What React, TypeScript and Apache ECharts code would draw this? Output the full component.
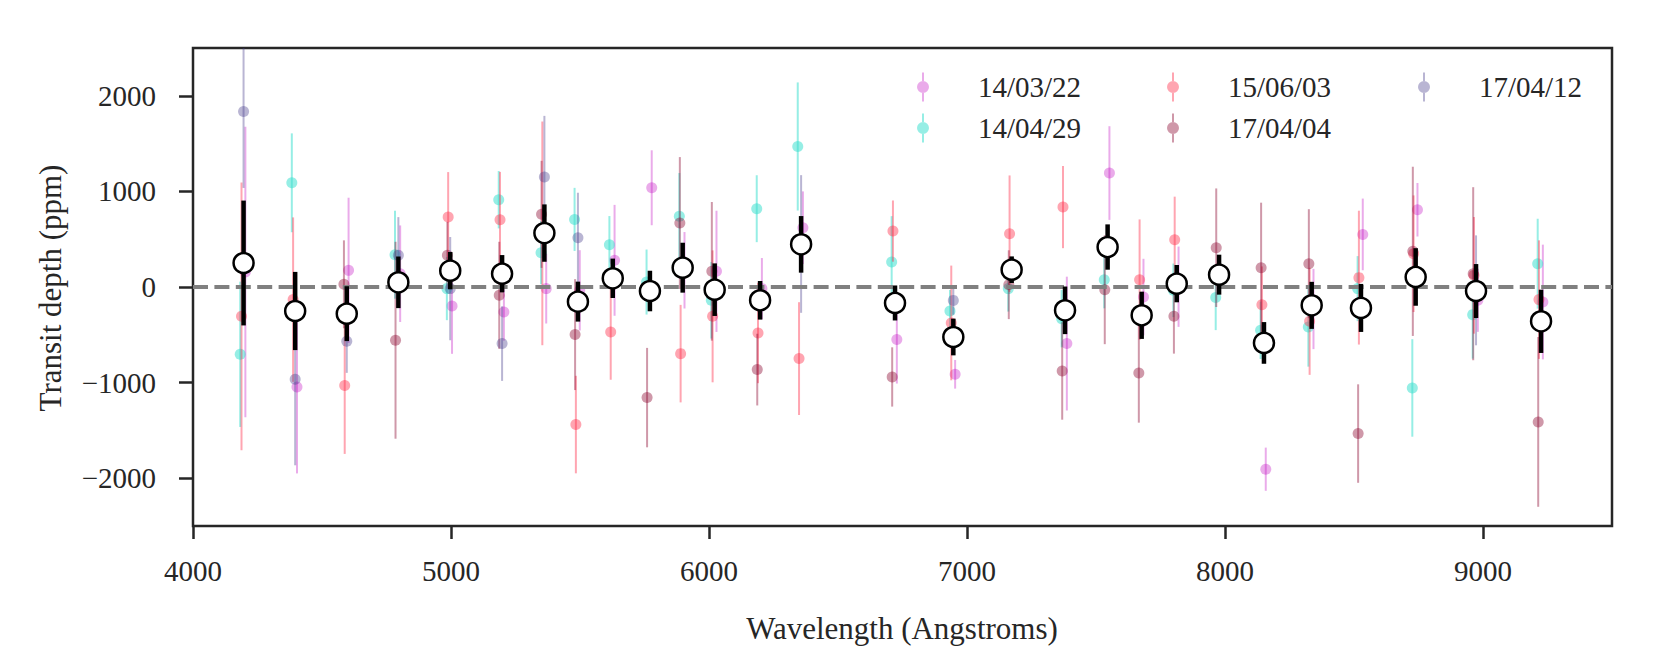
import React, { useEffect, useRef } from "react";
import * as echarts from "echarts";

// Wavelength bins (Angstroms)
const BINS = [4196, 4396, 4596, 4796, 4997, 5198, 5362, 5492, 5627, 5771, 5898, 6022, 6198, 6357, 6721, 6947, 7173, 7380, 7545, 7677, 7813, 7977, 8151, 8336, 8527, 8739, 8973, 9225];

// Combined transit depth (ppm)
const MEAN = [251, -251, -279, 49, 171, 139, 564, -153, 91, -42, 202, -28, -139, 446, -167, -523, 181, -244, 418, -296, 35, 129, -585, -192, -219, 105, -42, -359];
const MEAN_ERR = [653, 409, 287, 270, 195, 195, 300, 209, 206, 212, 261, 275, 202, 296, 183, 192, 139, 249, 237, 247, 195, 209, 218, 246, 251, 301, 282, 331];

// Individual nights
const N1_VAL = [157, -1045, 174, 139, -199, -261, -17, -35, 279, 1038, 175, 164, -17, 620, -550, -913, null, -592, 1192, -105, 3, null, -1906, -230, 550, 808, -139, -157];
const N1_ERR = [1520, 905, 760, 505, 500, 300, 365, 420, 580, 392, 400, 634, 320, 380, 460, 150, null, 700, 490, 400, 420, null, 226, 420, 375, 280, 330, 600];

const N2_VAL = [-704, 1090, null, 338, -17, 913, 359, 707, 442, 52, 739, -139, 819, 1470, 261, -251, -17, -331, 77, null, -35, -111, -453, -418, -17, -1056, -289, 244];
const N2_ERR = [760, 517, null, 460, 330, 300, 330, 330, 300, 340, 453, 400, 350, 670, 480, 220, 240, 300, 300, null, 280, 340, 300, 415, 340, 510, 460, 470];

const N3_VAL = [-307, -132, -1031, null, 732, 704, 561, -1439, -470, null, -697, -307, -481, -749, 585, -376, 557, 836, null, 77, 495, null, -185, -359, 98, 348, 122, -132];
const N3_ERR = [1400, 860, 715, null, 470, 500, 1170, 510, 500, null, 510, 690, 525, 590, 320, 600, 610, 430, null, 630, 450, null, 400, 560, 700, 610, 610, 620];

const N4_VAL = [null, null, 28, -557, 331, -87, 760, -498, null, -1157, 669, 164, -864, null, -941, null, 24, -878, -28, -899, -307, 411, 202, 244, -1533, 373, 139, -1411];
const N4_ERR = [null, null, 460, 1030, 350, 560, 560, 580, null, 520, 690, 725, 375, null, 310, null, 360, 510, 570, 520, 390, 620, 680, 570, 515, 885, 905, 888];

const N5_VAL = [1836, -965, -568, 331, -17, -592, 1150, 516, null, null, null, null, null, 450, null, -140, null, null, null, null, null, null, null, null, null, null, -35, null];
const N5_ERR = [800, 900, 330, 400, 540, 390, 640, 470, null, null, null, null, null, 720, null, 150, null, null, null, null, null, null, null, null, null, null, 575, null];

const NIGHT_NAMES = ["14/03/22", "14/04/29", "15/06/03", "17/04/04", "17/04/12"];
// small wavelength offset of each night's bin centres (Angstroms)
const NIGHT_SHIFT = [7, -13, -8, -11, 0];

const X_TICKS = [4000, 5000, 6000, 7000, 8000, 9000];
const Y_TICKS = [-2000, -1000, 0, 1000, 2000];

const COLORS = [
  "rgba(191,0,191,0.33)",
  "rgba(64,224,208,0.55)",
  "rgba(255,40,70,0.42)",
  "rgba(140,10,50,0.42)",
  "rgba(72,61,139,0.38)",
];

const FONT = "'Liberation Serif', 'DejaVu Serif', 'Times New Roman', serif";
const INK = "#262626";

const LEGEND_ICON =
  "path://M5,0 h2 v8.5 h-2 z M5,20.5 h2 v8.5 h-2 z M0,14.5 a6,6 0 1,0 12,0 a6,6 0 1,0 -12,0 z";

function nightSeries(idx: number, vals: (number | null)[], errs: (number | null)[]) {
  const color = COLORS[idx];
  const data: number[][] = [];
  BINS.forEach((w, i) => {
    const v = vals[i];
    const e = errs[i];
    if (v !== null && e !== null) data.push([w + NIGHT_SHIFT[idx], v, e]);
  });
  return {
    type: "custom",
    name: NIGHT_NAMES[idx],
    clip: true,
    z: 2,
    itemStyle: { color },
    encode: { x: 0, y: 1 },
    data,
    renderItem: (params: any, api: any) => {
      const x = api.value(0);
      const y = api.value(1);
      const e = api.value(2);
      const p = api.coord([x, y]);
      const hi = api.coord([x, y + e]);
      const lo = api.coord([x, y - e]);
      return {
        type: "group",
        children: [
          {
            type: "line",
            shape: { x1: p[0], y1: hi[1], x2: p[0], y2: lo[1] },
            style: { stroke: color, lineWidth: 2 },
          },
          {
            type: "circle",
            shape: { cx: p[0], cy: p[1], r: 5.5 },
            style: { fill: color },
          },
        ],
      };
    },
  };
}

function meanSeries() {
  const data = BINS.map((w, i) => [w, MEAN[i], MEAN_ERR[i]]);
  return {
    type: "custom",
    name: "mean",
    clip: true,
    z: 5,
    encode: { x: 0, y: 1 },
    data,
    renderItem: (params: any, api: any) => {
      const x = api.value(0);
      const y = api.value(1);
      const e = api.value(2);
      const p = api.coord([x, y]);
      const hi = api.coord([x, y + e]);
      const lo = api.coord([x, y - e]);
      return {
        type: "group",
        children: [
          {
            type: "line",
            shape: { x1: p[0], y1: hi[1], x2: p[0], y2: lo[1] },
            style: { stroke: "#000", lineWidth: 4.5 },
          },
          {
            type: "circle",
            shape: { cx: p[0], cy: p[1], r: 10 },
            style: { fill: "#fff", stroke: "#000", lineWidth: 2.5 },
          },
        ],
      };
    },
  };
}

const legendBase = {
  orient: "vertical",
  top: 72.5,
  padding: 0,
  itemWidth: 12,
  itemHeight: 29,
  itemGap: 12,
  icon: LEGEND_ICON,
  selectedMode: false,
  textStyle: { fontFamily: FONT, fontSize: 29, color: INK, padding: [0, 0, 0, 44] },
};

export default function App() {
  const ref = useRef<HTMLDivElement>(null);

  useEffect(() => {
    if (!ref.current) return;
    const chart = echarts.init(ref.current, undefined, { renderer: "svg" });
    const option: any = {
      animation: false,
      backgroundColor: "#fff",
      grid: {
        left: 193,
        right: 49,
        top: 48,
        bottom: 138,
        show: true,
        borderColor: INK,
        borderWidth: 2.5,
        backgroundColor: "transparent",
      },
      xAxis: {
        type: "value",
        min: 4000,
        max: 9500,
        axisLine: { show: false, onZero: false },
        splitLine: { show: false },
        axisTick: {
          show: true,
          inside: false,
          length: 13,
          customValues: X_TICKS,
          lineStyle: { color: INK, width: 2.5 },
        },
        axisLabel: {
          customValues: X_TICKS,
          margin: 30,
          fontFamily: FONT,
          fontSize: 29,
          color: INK,
          formatter: (v: number) => String(v),
        },
      },
      yAxis: {
        type: "value",
        min: -2500,
        max: 2500,
        axisLine: { show: false, onZero: false },
        splitLine: { show: false },
        axisTick: {
          show: true,
          inside: false,
          length: 14,
          customValues: Y_TICKS,
          lineStyle: { color: INK, width: 2.5 },
        },
        axisLabel: {
          customValues: Y_TICKS,
          margin: 37,
          fontFamily: FONT,
          fontSize: 29,
          color: INK,
          formatter: (v: number) => (v < 0 ? "\u2212" + Math.abs(v) : String(v)),
        },
      },
      legend: [
        { ...legendBase, left: 917, data: [NIGHT_NAMES[0], NIGHT_NAMES[1]] },
        { ...legendBase, left: 1167, data: [NIGHT_NAMES[2], NIGHT_NAMES[3]] },
        { ...legendBase, left: 1418, data: [NIGHT_NAMES[4]] },
      ],
      graphic: [
        {
          type: "text",
          x: 902,
          y: 628,
          style: {
            text: "Wavelength (Angstroms)",
            fontFamily: FONT,
            fontSize: 31,
            fill: INK,
            align: "center",
            verticalAlign: "middle",
            textAlign: "center",
            textVerticalAlign: "middle",
          },
        },
        {
          type: "text",
          x: 50,
          y: 288,
          rotation: Math.PI / 2,
          style: {
            text: "Transit depth (ppm)",
            fontFamily: FONT,
            fontSize: 31,
            fill: INK,
            align: "center",
            verticalAlign: "middle",
            textAlign: "center",
            textVerticalAlign: "middle",
          },
        },
      ],
      series: [
        nightSeries(0, N1_VAL, N1_ERR),
        nightSeries(1, N2_VAL, N2_ERR),
        nightSeries(2, N3_VAL, N3_ERR),
        nightSeries(3, N4_VAL, N4_ERR),
        nightSeries(4, N5_VAL, N5_ERR),
        {
          type: "line",
          name: "zero",
          z: 3,
          symbol: "none",
          silent: true,
          data: [
            [4000, 0],
            [9500, 0],
          ],
          lineStyle: { color: "#808080", width: 4, type: [15, 6.4] },
        },
        meanSeries(),
      ],
    };
    chart.setOption(option);
    return () => chart.dispose();
  }, []);

  return (
    <div
      ref={ref}
      style={{ position: "absolute", left: 0, top: 0, width: 1661, height: 664 }}
    />
  );
}
